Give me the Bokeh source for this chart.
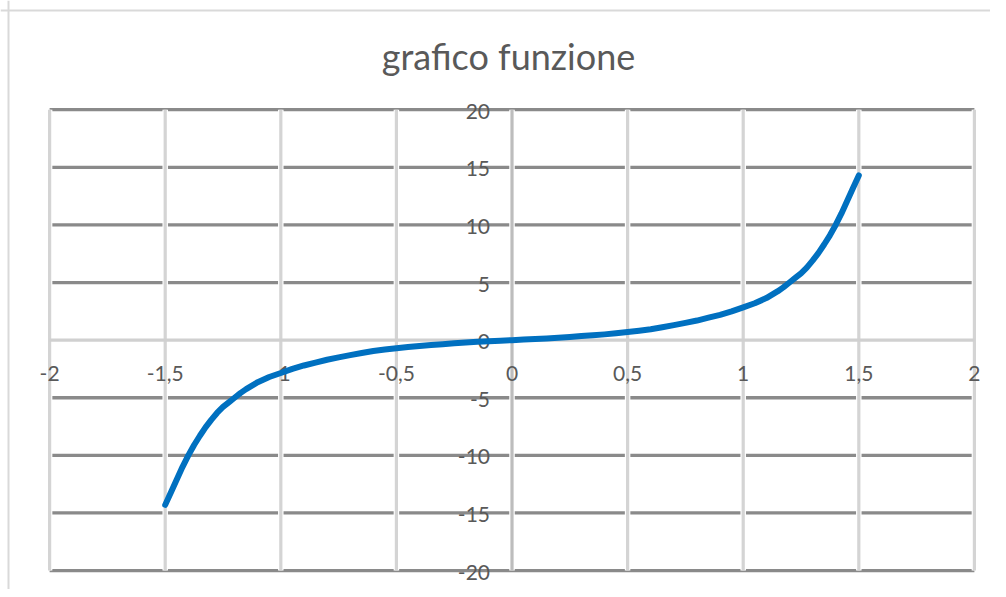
from bokeh.plotting import figure
from bokeh.models import ColumnDataSource, Range1d, Span, Label
from bokeh.core.properties import value
from bokeh.embed import file_html
from bokeh.resources import INLINE

# ---- data ----
x_vals = [-1.5, -1.475, -1.45, -1.425, -1.4, -1.375, -1.35, -1.325, -1.3, -1.275, -1.25,
          -1.225, -1.2, -1.175, -1.15, -1.1, -1.05, -1.0,
          -0.95, -0.9, -0.85, -0.8, -0.75, -0.7, -0.65, -0.6, -0.55, -0.5,
          -0.45, -0.4, -0.35, -0.3, -0.25, -0.2, -0.15, -0.1, -0.05, 0.0,
          0.05, 0.1, 0.15, 0.2, 0.25, 0.3, 0.35, 0.4, 0.45, 0.5,
          0.55, 0.6, 0.65, 0.7, 0.75, 0.8, 0.85, 0.9, 0.95, 1.0,
          1.05, 1.1, 1.15, 1.175, 1.2, 1.225, 1.25, 1.275, 1.3, 1.325, 1.35,
          1.375, 1.4, 1.425, 1.45, 1.475, 1.5]
y_vals = [-14.3, -13.2, -12.1, -11.0, -10.0, -9.1, -8.3, -7.55, -6.9, -6.3, -5.8,
          -5.4, -5.0, -4.6, -4.25, -3.65, -3.2, -2.85,
          -2.5, -2.2, -1.95, -1.7, -1.5, -1.3, -1.12, -0.95, -0.82, -0.7,
          -0.6, -0.5, -0.42, -0.35, -0.27, -0.2, -0.15, -0.1, -0.05, 0.0,
          0.05, 0.1, 0.15, 0.2, 0.27, 0.35, 0.42, 0.5, 0.6, 0.7,
          0.82, 0.95, 1.12, 1.3, 1.5, 1.7, 1.95, 2.2, 2.5, 2.85,
          3.2, 3.65, 4.25, 4.6, 5.0, 5.4, 5.8, 6.3, 6.9, 7.55, 8.3,
          9.1, 10.0, 11.0, 12.1, 13.2, 14.3]
x_ticks = [-2, -1.5, -1, -0.5, 0, 0.5, 1, 1.5, 2]
x_tick_labels = ["-2", "-1,5", "-1", "-0,5", "0", "0,5", "1", "1,5", "2"]
y_ticks = [-20, -15, -10, -5, 0, 5, 10, 15, 20]
y_tick_labels = ["-20", "-15", "-10", "-5", "0", "5", "10", "15", "20"]
title_text = "grafico funzione"

FONT = "Lato"
TXT = "#595959"

p = figure(width=990, height=589, output_backend="svg", toolbar_location=None,
           x_range=Range1d(-2.2124, 2.0696), y_range=Range1d(-21.645, 29.48),
           min_border=0, background_fill_color="white", border_fill_color="white")
p.axis.visible = False
p.grid.visible = False
p.outline_line_color = None

xmin, xmax = x_ticks[0], x_ticks[-1]
ymin, ymax = y_ticks[0], y_ticks[-1]

# horizontal gridlines (dark)
hy = [t for t in y_ticks if t != 0]
p.segment(x0=[xmin] * len(hy), x1=[xmax] * len(hy), y0=hy, y1=hy,
          line_color="#8a8a8a", line_width=3.3)

# vertical gridlines with white casing
p.segment(x0=x_ticks, x1=x_ticks, y0=[ymin] * len(x_ticks), y1=[ymax] * len(x_ticks),
          line_color="white", line_width=5.5)
vcol = ["#bdbdbd" if t == 0 else "#d4d4d4" for t in x_ticks]
p.segment(x0=x_ticks, x1=x_ticks, y0=[ymin] * len(x_ticks), y1=[ymax] * len(x_ticks),
          line_color=vcol, line_width=3.2)

# horizontal axis line at 0
p.segment(x0=[xmin], x1=[xmax], y0=[0], y1=[0], line_color="#d0d0d0", line_width=3.2)

# tick labels
p.text(x=x_ticks, y=[0] * len(x_ticks), text=x_tick_labels,
       text_font=value(FONT), text_font_size="21px", text_color=TXT,
       text_align="center", text_baseline="middle", y_offset=33)
p.text(x=[0] * len(y_ticks), y=y_ticks, text=y_tick_labels,
       text_font=value(FONT), text_font_size="21px", text_color=TXT,
       text_align="right", text_baseline="middle", x_offset=-22, y_offset=1.5)

# curve
src = ColumnDataSource(dict(x=x_vals, y=y_vals))
p.line("x", "y", source=src, line_color="#0070C0", line_width=6,
       line_join="round", line_cap="round")

# title
p.add_layout(Label(x=-0.015, y=24.7, text=title_text, text_font=FONT,
                   text_font_size="36px", text_color=TXT, text_align="center",
                   text_baseline="middle"))

# chart border (top/left)
p.add_layout(Span(location=-2.1778, dimension="height", line_color="#d9d9d9", line_width=2))
p.add_layout(Span(location=28.62, dimension="width", line_color="#d9d9d9", line_width=2))

open("out.html", "w").write(file_html(p, INLINE))
